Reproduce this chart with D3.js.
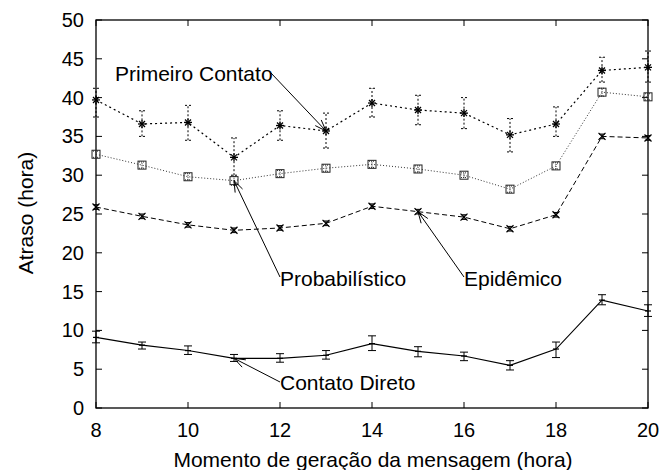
<!DOCTYPE html>
<html><head><meta charset="utf-8">
<script src="https://cdn.jsdelivr.net/npm/d3@7/dist/d3.min.js"></script>
<style>body{margin:0;background:#fff}text{font-family:"Liberation Sans",Arial,sans-serif;fill:#000}</style>
</head><body>
<svg id="c" width="663" height="470"></svg>
<script>
const hours = [8,9,10,11,12,13,14,15,16,17,18,19,20];
const xTicks = [8,10,12,14,16,18,20];
const yTicks = [0,5,10,15,20,25,30,35,40,45,50];

const primeiro = [39.7,36.6,36.8,32.3,36.4,35.7,39.3,38.4,38.0,35.2,36.6,43.5,43.9];
const primeiroLo = [37.5,35.0,34.5,30.0,34.5,33.5,37.5,36.5,36.0,33.0,35.0,42.0,42.0];
const primeiroHi = [41.2,38.3,39.0,34.8,38.3,38.0,41.2,40.3,40.0,37.3,38.8,45.2,46.0];

const probab = [32.7,31.3,29.8,29.3,30.2,30.9,31.4,30.8,30.0,28.2,31.2,40.7,40.1];
const probabErr = [0.4,0.4,0.4,0.6,0.4,0.4,0.4,0.4,0.3,0.4,0.4,0.5,0.4];

const epid = [25.9,24.7,23.6,22.9,23.2,23.8,26.0,25.3,24.6,23.1,24.9,35.0,34.8];
const epidErr = [0.3,0.3,0.3,0.3,0.3,0.3,0.3,0.3,0.3,0.3,0.3,0.3,0.3];

const direto = [9.1,8.1,7.4,6.4,6.4,6.8,8.3,7.3,6.7,5.5,7.6,13.9,12.5];
const diretoLo = [8.4,7.6,6.9,6.0,5.9,6.3,7.4,6.6,6.1,4.9,6.5,13.3,11.8];
const diretoHi = [9.9,8.5,8.0,6.9,7.0,7.4,9.3,7.9,7.2,6.1,8.5,14.6,13.3];

const svg = d3.select("#c");
const L=96,R=648,T=20,B=408;
const x = d3.scaleLinear().domain([8,20]).range([L,R]);
const y = d3.scaleLinear().domain([0,50]).range([B,T]);
const FS = 20, LFS = 21;

// axes frame
svg.append("rect").attr("x",L).attr("y",T).attr("width",R-L).attr("height",B-T)
  .attr("fill","none").attr("stroke","#000").attr("stroke-width",1.3);

const tk = 6;
const g = svg.append("g").attr("stroke","#000").attr("stroke-width",1);
yTicks.forEach(v=>{
  g.append("line").attr("x1",L).attr("x2",L+tk).attr("y1",y(v)).attr("y2",y(v));
  g.append("line").attr("x1",R).attr("x2",R-tk).attr("y1",y(v)).attr("y2",y(v));
  svg.append("text").attr("x",L-12).attr("y",y(v)+7).attr("text-anchor","end")
    .attr("font-size",FS).text(v);
});
xTicks.forEach(v=>{
  g.append("line").attr("x1",x(v)).attr("x2",x(v)).attr("y1",B).attr("y2",B-tk);
  g.append("line").attr("x1",x(v)).attr("x2",x(v)).attr("y1",T).attr("y2",T+tk);
  svg.append("text").attr("x",x(v)).attr("y",B+29).attr("text-anchor","middle")
    .attr("font-size",FS).text(v);
});

svg.append("text").attr("x",373).attr("y",467).attr("text-anchor","middle")
  .attr("font-size",LFS).text("Momento de geração da mensagem (hora)");
svg.append("text").attr("transform","translate(33,213) rotate(-90)").attr("text-anchor","middle")
  .attr("font-size",LFS).text("Atraso (hora)");

const line = d3.line().x((d,i)=>x(hours[i])).y(d=>y(d));

function errbars(lo,hi,dash,color,cap){
  const eg = svg.append("g").attr("stroke",color).attr("stroke-width",1).attr("stroke-dasharray",dash);
  hours.forEach((h,i)=>{
    eg.append("line").attr("x1",x(h)).attr("x2",x(h)).attr("y1",y(lo[i])).attr("y2",y(hi[i]));
    eg.append("line").attr("x1",x(h)-cap).attr("x2",x(h)+cap).attr("y1",y(lo[i])).attr("y2",y(lo[i]));
    eg.append("line").attr("x1",x(h)-cap).attr("x2",x(h)+cap).attr("y1",y(hi[i])).attr("y2",y(hi[i]));
  });
}

// Primeiro Contato
svg.append("path").attr("d",line(primeiro)).attr("fill","none").attr("stroke","#000")
  .attr("stroke-width",1.2).attr("stroke-dasharray","2,3");
errbars(primeiroLo,primeiroHi,"2,2","#000",3);
const pg = svg.append("g").attr("stroke","#000").attr("stroke-width",1.3);
hours.forEach((h,i)=>{
  const cx=x(h), cy=y(primeiro[i]), s=4;
  pg.append("line").attr("x1",cx-s).attr("x2",cx+s).attr("y1",cy).attr("y2",cy);
  pg.append("line").attr("x1",cx).attr("x2",cx).attr("y1",cy-s).attr("y2",cy+s);
  pg.append("line").attr("x1",cx-3).attr("x2",cx+3).attr("y1",cy-3).attr("y2",cy+3);
  pg.append("line").attr("x1",cx-3).attr("x2",cx+3).attr("y1",cy+3).attr("y2",cy-3);
});

// Probabilistico
svg.append("path").attr("d",line(probab)).attr("fill","none").attr("stroke","#333")
  .attr("stroke-width",1).attr("stroke-dasharray","1,2");
errbars(probab.map((v,i)=>v-probabErr[i]),probab.map((v,i)=>v+probabErr[i]),"1,1","#333",3);
const sg = svg.append("g").attr("stroke","#222").attr("stroke-width",1).attr("fill","none");
hours.forEach((h,i)=>{
  sg.append("rect").attr("x",x(h)-4).attr("y",y(probab[i])-4).attr("width",8).attr("height",8);
});

// Epidemico
svg.append("path").attr("d",line(epid)).attr("fill","none").attr("stroke","#000")
  .attr("stroke-width",1).attr("stroke-dasharray","5,3");
errbars(epid.map((v,i)=>v-epidErr[i]),epid.map((v,i)=>v+epidErr[i]),"none","#000",3);
const xg = svg.append("g").attr("stroke","#000").attr("stroke-width",1.2);
hours.forEach((h,i)=>{
  const cx=x(h), cy=y(epid[i]), s=3.5;
  xg.append("line").attr("x1",cx-s).attr("x2",cx+s).attr("y1",cy-s).attr("y2",cy+s);
  xg.append("line").attr("x1",cx-s).attr("x2",cx+s).attr("y1",cy+s).attr("y2",cy-s);
});

// Contato Direto
svg.append("path").attr("d",line(direto)).attr("fill","none").attr("stroke","#000").attr("stroke-width",1.1);
errbars(diretoLo,diretoHi,"none","#000",4);
const dg = svg.append("g").attr("stroke","#000").attr("stroke-width",1.2);
hours.forEach((h,i)=>{
  const cx=x(h), cy=y(direto[i]);
  dg.append("line").attr("x1",cx-3).attr("x2",cx+3).attr("y1",cy).attr("y2",cy);
});

// labels with arrows
function arrow(x1,y1,x2,y2){
  svg.append("line").attr("x1",x1).attr("y1",y1).attr("x2",x2).attr("y2",y2)
    .attr("stroke","#000").attr("stroke-width",1);
  const a=Math.atan2(y2-y1,x2-x1), len=12, w=0.35;
  const p1=[x2-len*Math.cos(a-w),y2-len*Math.sin(a-w)];
  const p2=[x2-len*Math.cos(a+w),y2-len*Math.sin(a+w)];
  svg.append("path").attr("d",`M${p1}L${x2},${y2}L${p2}`).attr("fill","none")
    .attr("stroke","#000").attr("stroke-width",1);
}
function label(txt,tx,ty){
  svg.append("text").attr("x",tx).attr("y",ty).attr("font-size",LFS).text(txt);
}
label("Primeiro Contato",115,81);
arrow(271,73,x(13),y(primeiro[5]));
label("Probabilístico",280,286);
arrow(280,277,x(11),y(probab[3]));
label("Epidêmico",464,286);
arrow(464,277,x(15),y(epid[7]));
label("Contato Direto",280,390);
arrow(280,382,x(11),y(direto[3]));
</script>
</body></html>
